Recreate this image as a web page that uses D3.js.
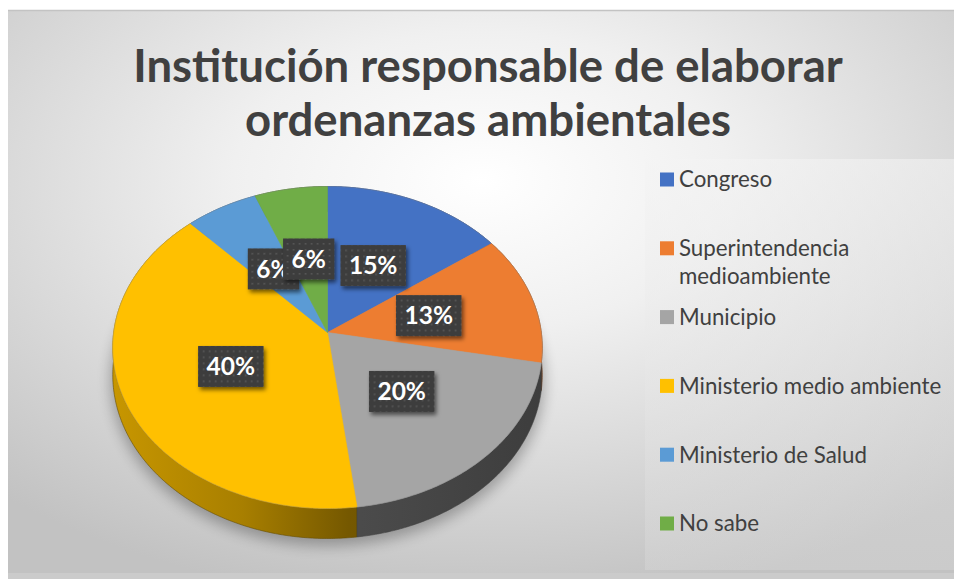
<!DOCTYPE html>
<html><head><meta charset="utf-8">
<script src="https://cdn.jsdelivr.net/npm/d3@7"></script>
<style>
html,body{margin:0;padding:0;background:#fff;}
svg{display:block;font-family:Lato,"Open Sans",sans-serif;}
</style>
</head><body>
<svg id="chart" width="954" height="579"></svg>
<script>
// ---------- data ----------
const categories = ["Congreso","Superintendencia medioambiente","Municipio","Ministerio medio ambiente","Ministerio de Salud","No sabe"];
const values = [15,13,20,40,6,6];
const percentLabels = ["15%","13%","20%","40%","6%","6%"];
const palette = ["#4472c4","#ed7d31","#a5a5a5","#ffc000","#5b9bd5","#70ad47"];
const titleLines = ["Institución responsable de elaborar","ordenanzas ambientales"];

// ---------- setup ----------
const W = 954, H = 579;
const svg = d3.select("#chart");
const defs = svg.append("defs");
const color = d3.scaleOrdinal(categories, palette);

// background gradient
const bg = defs.append("radialGradient").attr("id","bgGrad")
  .attr("cx","0.5").attr("cy","0.3").attr("r","0.75");
bg.append("stop").attr("offset","0").attr("stop-color","#ffffff");
bg.append("stop").attr("offset","0.35").attr("stop-color","#f0f0f0");
bg.append("stop").attr("offset","1").attr("stop-color","#c2c2c2");

const lg = defs.append("linearGradient").attr("id","legGrad").attr("x1",0).attr("y1",0).attr("x2",0).attr("y2",1);
lg.append("stop").attr("offset","0").attr("stop-color","#f4f4f4").attr("stop-opacity",0.55);
lg.append("stop").attr("offset","1").attr("stop-color","#dcdcdc").attr("stop-opacity",0.35);

svg.append("rect").attr("x",8).attr("y",10).attr("width",W-8).attr("height",H-10)
  .attr("fill","url(#bgGrad)");
svg.append("line").attr("x1",8).attr("x2",W).attr("y1",10.5).attr("y2",10.5)
  .attr("stroke","#c3c3c3").attr("stroke-width",1.5);
svg.append("rect").attr("x",8).attr("y",573).attr("width",W-8).attr("height",6).attr("fill","#cbcbcb");
svg.append("rect").attr("x",645).attr("y",159).attr("width",W-645).attr("height",411)
  .attr("fill","url(#legGrad)");

// ---------- title ----------
const title = svg.append("g").attr("fill","#404040").attr("font-weight","700")
  .attr("font-size",45.5).attr("text-anchor","middle");
title.selectAll("text").data(titleLines).join("text")
  .attr("x",488).attr("y",(d,i)=>82 + i*54).text(d=>d);

// ---------- pie projection (perspective view of a tilted disc) ----------
const cx = 327.5, cy = 332.5, R = 213.8, S = 159.6, K = 0.0932, T = 27.2;
const rScale = d3.scaleLinear().domain([0,1]).range([0,1]);
function proj(theta, r, h){
  const u = rScale(r)*Math.sin(theta), v = -rScale(r)*Math.cos(theta);
  const w = 1 - K*v;
  return [cx + R*u/w, cy + (S*v + h)/w];
}
const pie = d3.pie().sort(null).value(d=>d.value).startAngle(0).endAngle(2*Math.PI);
const arcs = pie(categories.map((c,i)=>({cat:c, value:values[i], label:percentLabels[i]})));
const line = d3.line();

function arcPts(a0, a1, r, h){
  const n = Math.max(4, Math.ceil((a1-a0)/0.01));
  return d3.range(n+1).map(i=>proj(a0 + (a1-a0)*i/n, r, h));
}

// filters
const blur = defs.append("filter").attr("id","pieShadow").attr("x","-20%").attr("y","-20%").attr("width","140%").attr("height","140%");
blur.append("feGaussianBlur").attr("stdDeviation",7);
const ds = defs.append("filter").attr("id","lblShadow").attr("x","-20%").attr("y","-20%").attr("width","150%").attr("height","160%");
ds.append("feDropShadow").attr("dx",2).attr("dy",3).attr("stdDeviation",2)
  .attr("flood-color","#000").attr("flood-opacity",0.55);

// label pattern
const pat = defs.append("pattern").attr("id","dots").attr("patternUnits","userSpaceOnUse")
  .attr("width",6).attr("height",6);
pat.append("rect").attr("width",6).attr("height",6).attr("fill","#3e3e3e");
pat.append("rect").attr("x",2).attr("y",2).attr("width",1.6).attr("height",1.6).attr("fill","#585858");

// pie shadow
const pieG = svg.append("g");
pieG.append("path")
  .attr("d", line(arcPts(0, 2*Math.PI, 1.01, T+5)) + "Z")
  .attr("fill","#000").attr("opacity",0.28).attr("filter","url(#pieShadow)");

// side wall gradients
arcs.forEach((a,i)=>{
  const c = color(a.data.cat);
  const g = defs.append("linearGradient").attr("id","wall"+i)
    .attr("gradientUnits","userSpaceOnUse")
    .attr("x1", cx-R).attr("x2", cx+R).attr("y1",0).attr("y2",0);
  const mix = f => d3.interpolateRgb("#000", c)(f);
  g.append("stop").attr("offset",0).attr("stop-color",mix(0.78));
  g.append("stop").attr("offset",0.3).attr("stop-color",mix(0.66));
  g.append("stop").attr("offset",0.55).attr("stop-color",mix(0.46));
  g.append("stop").attr("offset",1).attr("stop-color",mix(0.37));
});

// walls, back to front
const wallOrder = arcs.map((a,i)=>({a,i,depth:-Math.cos((a.startAngle+a.endAngle)/2)}))
  .sort((p,q)=>p.depth-q.depth);
pieG.selectAll("path.wall").data(wallOrder).join("path").attr("class","wall")
  .attr("d", d=>{
    const top = arcPts(d.a.startAngle, d.a.endAngle, 1, 0);
    const bot = arcPts(d.a.startAngle, d.a.endAngle, 1, T).reverse();
    return line(top.concat(bot)) + "Z";
  })
  .attr("fill", d=>"url(#wall"+d.i+")")
  .attr("stroke", d=>d3.interpolateRgb("#000", color(d.a.data.cat))(0.4))
  .attr("stroke-width",0.6);

// top faces
pieG.selectAll("path.top").data(arcs).join("path").attr("class","top")
  .attr("d", a=>line([proj(0,0,0)].concat(arcPts(a.startAngle, a.endAngle, 1, 0))) + "Z")
  .attr("fill", a=>color(a.data.cat))
  .attr("stroke", a=>color(a.data.cat)).attr("stroke-width",0.6);
// rim line
pieG.append("path").attr("d", line(arcPts(0, 2*Math.PI, 1, 0))+"Z")
  .attr("fill","none").attr("stroke","#8a8a8a").attr("stroke-opacity",0.35).attr("stroke-width",0.8);

// ---------- data labels ----------
const lblG = svg.append("g");
arcs.forEach(a=>{
  const mid = (a.startAngle + a.endAngle)/2;
  const p = proj(mid, 0.49, 0);
  const g = lblG.append("g").attr("transform",`translate(${p[0]},${p[1]})`);
  const r = g.append("rect").attr("fill","url(#dots)").attr("filter","url(#lblShadow)");
  const t = g.append("text").attr("text-anchor","middle").attr("dy","0.36em")
    .attr("fill","#ffffff").attr("font-weight","700").attr("font-size",24.5)
    .text(a.data.label);
  const w = t.node().getComputedTextLength() + 17, h = 41;
  r.attr("x",-w/2).attr("y",-h/2).attr("width",w).attr("height",h);
});

// ---------- legend ----------
const legG = svg.append("g").attr("font-size",22.3).attr("fill","#404040");
const legX = 660, legY0 = 179.5, legStep = 68.8, maxW = 272, lineH = 28;
categories.forEach((c,i)=>{
  const y = legY0 + i*legStep;
  legG.append("rect").attr("x",legX).attr("y",y-7).attr("width",14).attr("height",14).attr("fill",color(c));
  const t = legG.append("text").attr("x",legX+19).attr("y",y);
  const words = c.split(" ");
  let lines = [], cur = "";
  const probe = legG.append("text").attr("visibility","hidden");
  words.forEach(wd=>{
    const test = cur ? cur+" "+wd : wd;
    probe.text(test);
    if (probe.node().getComputedTextLength() > maxW && cur){ lines.push(cur); cur = wd; }
    else cur = test;
  });
  lines.push(cur);
  probe.remove();
  lines.forEach((ln,j)=>{
    t.append("tspan").attr("x",legX+19).attr("dy", j===0 ? "0.35em" : lineH).text(ln);
  });
});
</script>
</body></html>
